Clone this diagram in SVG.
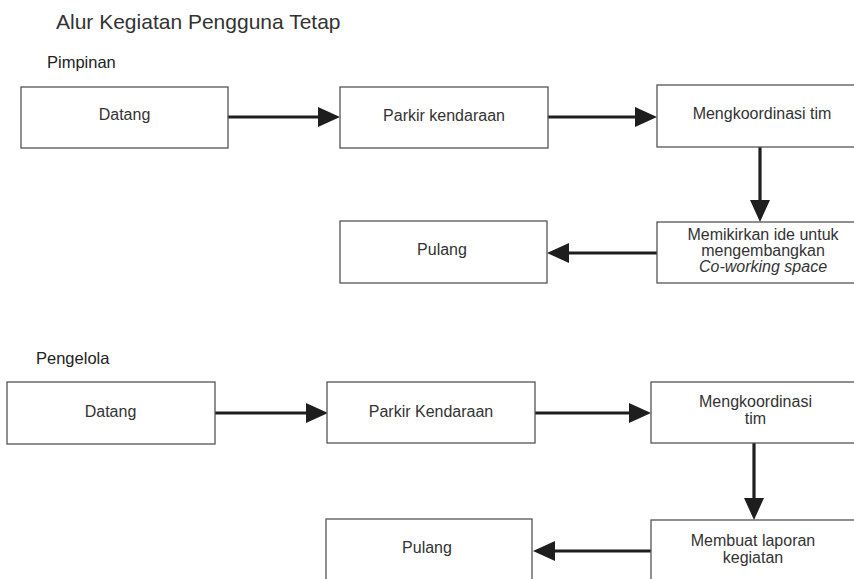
<svg xmlns="http://www.w3.org/2000/svg" width="854" height="579" viewBox="0 0 854 579">
  <defs>
    <style>
      .box { fill: #ffffff; stroke: #555555; stroke-width: 1.3; }
      .t { font-family: "Liberation Sans", Arial, sans-serif; font-size: 16px; fill: #333333; text-anchor: middle; }
      .it { font-style: italic; }
      .title { font-family: "Liberation Sans", Arial, sans-serif; font-size: 21px; fill: #333333; }
      .sec { font-family: "Liberation Sans", Arial, sans-serif; font-size: 16.5px; fill: #222222; }
      .conn { stroke: #1e1e1e; stroke-width: 3.2; fill: none; marker-end: url(#ah); }
    </style>
    <marker id="ah" markerUnits="userSpaceOnUse" markerWidth="23" markerHeight="20" refX="0" refY="10" orient="auto">
      <path d="M0,0 L22,10 L0,20 z" fill="#1e1e1e"/>
    </marker>
  </defs>
  <rect width="854" height="579" fill="#ffffff"/>

  <text class="title" x="56" y="29">Alur Kegiatan Pengguna Tetap</text>
  <text class="sec" x="47" y="68">Pimpinan</text>
  <text class="sec" x="36" y="364">Pengelola</text>

  <g id="connectors">
    <line class="conn" x1="228" y1="117" x2="318" y2="117"/>
    <line class="conn" x1="548" y1="117" x2="635" y2="117"/>
    <line class="conn" x1="760" y1="147" x2="760" y2="200"/>
    <line class="conn" x1="657" y1="253" x2="569" y2="253"/>
    <line class="conn" x1="215" y1="413" x2="306" y2="413"/>
    <line class="conn" x1="535" y1="413" x2="629" y2="413"/>
    <line class="conn" x1="754" y1="443" x2="754" y2="498"/>
    <line class="conn" x1="651" y1="551" x2="555" y2="551"/>
  </g>

  <g id="p-datang">
    <rect class="box" x="21" y="87" width="207" height="61"/>
    <text class="t" x="124.5" y="120">Datang</text>
  </g>
  <g id="p-parkir">
    <rect class="box" x="340" y="87" width="208" height="61"/>
    <text class="t" x="444" y="121">Parkir kendaraan</text>
  </g>
  <g id="p-koordinasi">
    <rect class="box" x="657" y="85" width="212" height="62"/>
    <text class="t" x="762" y="119">Mengkoordinasi tim</text>
  </g>
  <g id="p-ide">
    <rect class="box" x="657" y="222" width="212" height="61"/>
    <text class="t" x="763" y="240">Memikirkan ide untuk</text>
    <text class="t" x="763" y="256">mengembangkan</text>
    <text class="t it" x="763" y="272">Co-working space</text>
  </g>
  <g id="p-pulang">
    <rect class="box" x="340" y="221" width="207" height="62"/>
    <text class="t" x="442" y="255">Pulang</text>
  </g>

  <g id="k-datang">
    <rect class="box" x="7" y="382" width="208" height="62"/>
    <text class="t" x="110.5" y="417">Datang</text>
  </g>
  <g id="k-parkir">
    <rect class="box" x="327" y="382" width="208" height="61"/>
    <text class="t" x="431" y="417">Parkir Kendaraan</text>
  </g>
  <g id="k-koordinasi">
    <rect class="box" x="651" y="382" width="215" height="61"/>
    <text class="t" x="755.5" y="407">Mengkoordinasi</text>
    <text class="t" x="755.5" y="424">tim</text>
  </g>
  <g id="k-laporan">
    <rect class="box" x="651" y="520" width="215" height="70"/>
    <text class="t" x="753" y="546">Membuat laporan</text>
    <text class="t" x="753" y="563">kegiatan</text>
  </g>
  <g id="k-pulang">
    <rect class="box" x="326" y="519" width="206" height="70"/>
    <text class="t" x="427" y="553">Pulang</text>
  </g>
</svg>
